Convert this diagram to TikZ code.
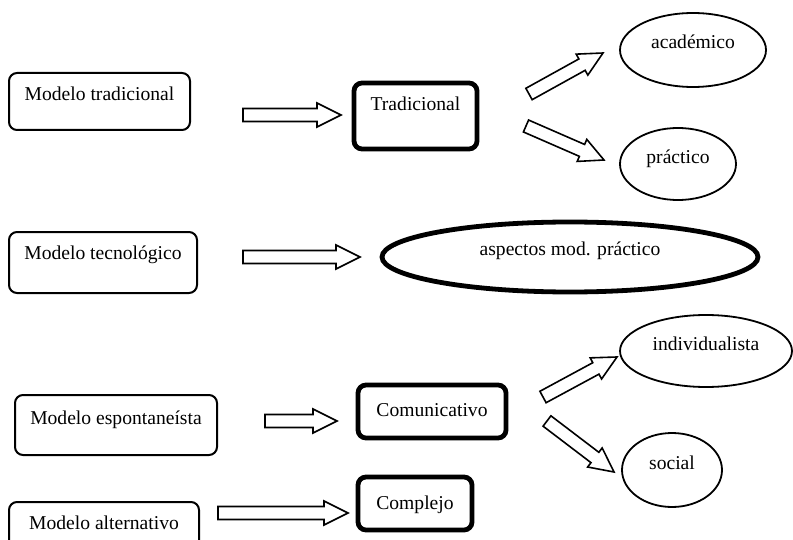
\documentclass[tikz,border=0pt]{standalone}
\usepackage{fontspec}
\setmainfont{Liberation Serif}
\usetikzlibrary{shapes.geometric, calc}
\tikzstyle{model} = [rectangle, rounded corners=4pt, draw=black, line width=1pt, inner sep=0pt, text centered, font=\fontsize{9.8}{11}\selectfont]
\tikzstyle{approach} = [rectangle, rounded corners=4pt, draw=black, line width=2.4pt, inner sep=0pt, text centered, font=\fontsize{9.8}{11}\selectfont]
\tikzstyle{aspect} = [ellipse, draw=black, line width=0.9pt, inner sep=0pt, text height=8pt, text depth=9pt, font=\fontsize{9.8}{11}\selectfont]
\tikzstyle{fatline} = [draw=black, line width=0.8pt, fill=white, line join=miter]
% hollow block arrow from #1 (tail) to #2 (tip)
\newcommand{\fatarrow}[2]{%
  \coordinate (hb) at ($(#2)!12pt!(#1)$);
  \draw[fatline] ($(#1)!3.25pt!90:(#2)$) -- ($(hb)!3.25pt!-90:(#1)$) -- ($(hb)!6pt!-90:(#1)$) -- (#2)
    -- ($(hb)!6pt!90:(#1)$) -- ($(hb)!3.25pt!90:(#1)$) -- ($(#1)!3.25pt!-90:(#2)$) -- cycle;}

\begin{document}
\begin{tikzpicture}[x=0.5pt, y=-0.5pt]
  \useasboundingbox (0,0) rectangle (793,540);

  % models
  \node (mtrad) [model, minimum width=90.5pt, text height=14pt, text depth=14.5pt] at (99.5,101.5) {Modelo tradicional};
  \node (mtec) [model, minimum width=94pt, text height=13.5pt, text depth=17pt] at (103,262.5) {Modelo tecnológico};
  \node (mesp) [model, minimum width=101pt, text height=14.5pt, text depth=15.5pt] at (116,425) {Modelo espontaneísta};
  \node (malt) [model, minimum width=95pt, text height=13.5pt, text depth=11.5pt] at (104,527) {Modelo alternativo};

  % approaches
  \node (trad) [approach, minimum width=61.5pt, text height=14pt, text depth=19pt] at (415.5,116) {Tradicional};
  \node (comu) [approach, minimum width=74pt, text height=15.5pt, text depth=11pt] at (432,411.5) {Comunicativo};
  \node (comp) [approach, minimum width=57pt, text height=16pt, text depth=10.5pt] at (415,503.5) {Complejo};

  % aspects
  \node (acad) [aspect, minimum width=73pt, minimum height=37pt] at (693,50) {académico};
  \node (prac) [aspect, minimum width=58pt, minimum height=36pt] at (678,164) {práctico};
  \node (asp) [aspect, line width=2.4pt, minimum width=188pt, minimum height=35pt] at (570,257) {aspectos mod. práctico};
  \node (indiv) [aspect, minimum width=86pt, minimum height=36pt] at (706,351) {individualista};
  \node (soc) [aspect, minimum width=50pt, minimum height=37pt] at (672,470) {social};

  % arrow ends
  \coordinate (t1) at (243,115);  \coordinate (p1) at (341,115);
  \coordinate (t2) at (529,94);   \coordinate (p2) at (603,53);
  \coordinate (t3) at (526,126);  \coordinate (p3) at (604,160);
  \coordinate (t4) at (243,257);  \coordinate (p4) at (360,257);
  \coordinate (t5) at (265,421);  \coordinate (p5) at (337,421);
  \coordinate (t6) at (543,397);  \coordinate (p6) at (617,357);
  \coordinate (t7) at (547,421);  \coordinate (p7) at (614,472);
  \coordinate (t8) at (218,513);  \coordinate (p8) at (348,513);

  \fatarrow{t1}{p1}
  \fatarrow{t2}{p2}
  \fatarrow{t3}{p3}
  \fatarrow{t4}{p4}
  \fatarrow{t5}{p5}
  \fatarrow{t6}{p6}
  \fatarrow{t7}{p7}
  \fatarrow{t8}{p8}
\end{tikzpicture}
\end{document}
